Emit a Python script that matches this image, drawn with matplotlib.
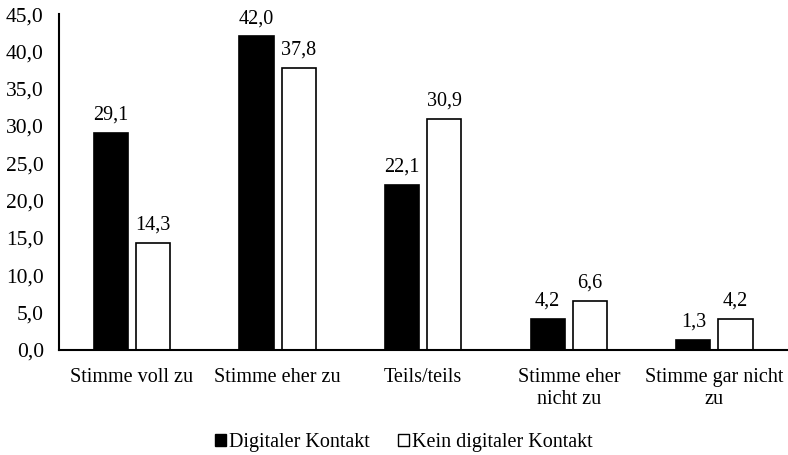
import numpy as np
import matplotlib.pyplot as plt
from matplotlib.patches import Patch
from matplotlib.ticker import FuncFormatter

plt.rcParams['font.family'] = ['Liberation Serif', 'DejaVu Serif']

categories = ['Stimme voll zu', 'Stimme eher zu', 'Teils/teils',
              'Stimme eher\nnicht zu', 'Stimme gar nicht\nzu']
digital = [29.1, 42.0, 22.1, 4.2, 1.3]
kein_digital = [14.3, 37.8, 30.9, 6.6, 4.2]
series_names = ['Digitaler Kontakt', 'Kein digitaler Kontakt']

fig = plt.figure(figsize=(7.88, 4.55), dpi=100)
ax = fig.add_axes([0.075, 0.231, 0.924, 0.738])

x = np.arange(len(categories))
w = 0.235
gap = 0.055
b1 = ax.bar(x - (w + gap) / 2, digital, w, color='black', edgecolor='black', lw=1.2)
b2 = ax.bar(x + (w + gap) / 2, kein_digital, w, color='white', edgecolor='black', lw=1.2)

def fmt(v):
    return f'{v:.1f}'.replace('.', ',')

# value labels above each bar
for bars, vals in ((b1, digital), (b2, kein_digital)):
    for b, v in zip(bars, vals):
        ax.annotate(fmt(v), (b.get_x() + b.get_width() / 2, v),
                    xytext=(0, 6), textcoords='offset points',
                    ha='center', va='bottom', fontsize=14.5)

ax.set_xlim(-0.5, len(categories) - 0.5)
ax.set_ylim(0, 45)
ax.set_yticks(np.arange(0, 46, 5))
ax.yaxis.set_major_formatter(FuncFormatter(lambda v, p: fmt(v)))
ax.set_xticks(x)
ax.set_xticklabels(categories, fontsize=14.5, linespacing=1.2)
ax.tick_params(axis='both', length=0)
ax.tick_params(axis='x', pad=13, labelsize=14.5)
ax.tick_params(axis='y', pad=11, labelsize=15.5)

for s in ('top', 'right'):
    ax.spines[s].set_visible(False)
ax.spines['left'].set_linewidth(1.5)
ax.spines['bottom'].set_linewidth(1.5)

handles = [Patch(facecolor='black', edgecolor='black', label=series_names[0]),
           Patch(facecolor='white', edgecolor='black', label=series_names[1])]
fig.legend(handles=handles, loc='center', bbox_to_anchor=(0.512, 0.027), ncol=2,
           frameon=False, fontsize=14.5, handlelength=0.55, handleheight=0.55,
           handletextpad=0.15, columnspacing=1.4)

plt.savefig('out.png', dpi=100)
